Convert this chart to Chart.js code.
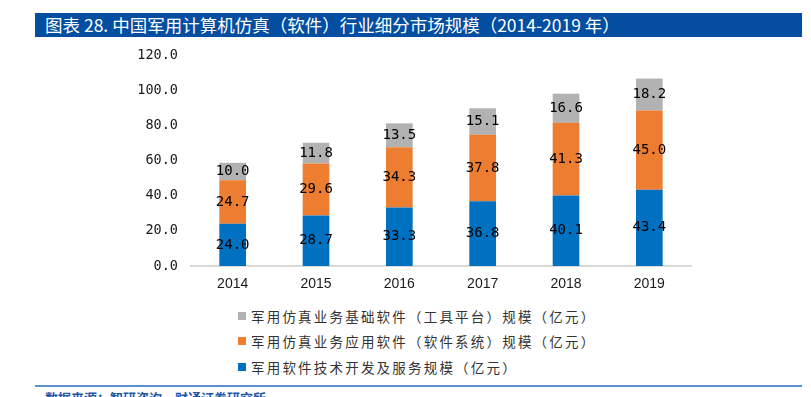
<!DOCTYPE html>
<html lang="zh-CN">
<head>
<meta charset="utf-8">
<title>中国军用计算机仿真（软件）行业细分市场规模</title>
<script src="https://cdn.jsdelivr.net/npm/chart.js@4.4.1/dist/chart.umd.min.js"></script>
<style>
  body { margin: 0; background: #fff; }
  .page { position: relative; width: 811px; height: 397px; overflow: hidden; font-family: "Noto Sans CJK SC", sans-serif; }
  .title-bar {
    position: absolute; left: 35px; top: 13px; width: 767px; height: 24px;
    background: #034ea0; color: #fff; font-size: 17.5px; line-height: 24px;
    padding-left: 10px; box-sizing: border-box; white-space: nowrap;
  }
  #chart { position: absolute; left: 0; top: 0; }
  .legend { position: absolute; left: 238px; top: 303px; }
  .legend-row { height: 25.5px; display: flex; align-items: center; font-size: 13.5px; letter-spacing: 2.2px; color: #333; white-space: nowrap; }
  .legend-row i { display: inline-block; width: 8px; height: 8px; margin-right: 5px; }
  .rule { position: absolute; left: 35px; top: 385px; width: 767px; height: 2px; background: #5b8fd0; }
  .source { position: absolute; left: 45px; top: 388px; font-size: 13px; color: #2257a8; font-weight: bold; white-space: nowrap; }
</style>
</head>
<body>
<div class="page">
  <div class="title-bar">图表 28. 中国军用计算机仿真（软件）行业细分市场规模（2014-2019 年）</div>
  <canvas id="chart" width="811" height="300"></canvas>
  <div class="legend" id="legend"></div>
  <div class="rule"></div>
  <div class="source">数据来源：智研咨询，财通证券研究所</div>
</div>
<script>
const years = ["2014", "2015", "2016", "2017", "2018", "2019"];
const serviceValues = [24.0, 28.7, 33.3, 36.8, 40.1, 43.4];
const applicationValues = [24.7, 29.6, 34.3, 37.8, 41.3, 45.0];
const platformValues = [10.0, 11.8, 13.5, 15.1, 16.6, 18.2];
const yTickLabels = ["0.0", "20.0", "40.0", "60.0", "80.0", "100.0", "120.0"];

const seriesNames = [
  "军用软件技术开发及服务规模（亿元）",
  "军用仿真业务应用软件（软件系统）规模（亿元）",
  "军用仿真业务基础软件（工具平台）规模（亿元）"
];
const seriesColors = ["#0070c0", "#ed7d31", "#b2b2b2"];

// value labels in the middle of each stacked segment
const segmentLabels = {
  id: "segmentLabels",
  afterDatasetsDraw(chart) {
    const ctx = chart.ctx;
    ctx.save();
    ctx.font = "14px 'DejaVu Sans Mono'";
    ctx.fillStyle = "#000";
    ctx.textAlign = "center";
    ctx.textBaseline = "middle";
    chart.data.datasets.forEach((dataset, i) => {
      chart.getDatasetMeta(i).data.forEach((bar, j) => {
        ctx.fillText(dataset.data[j].toFixed(1), bar.x, (bar.y + bar.base) / 2);
      });
    });
    ctx.restore();
  }
};

new Chart(document.getElementById("chart"), {
  type: "bar",
  data: {
    labels: years,
    datasets: [serviceValues, applicationValues, platformValues].map((values, i) => ({
      label: seriesNames[i],
      data: values,
      backgroundColor: seriesColors[i],
      categoryPercentage: 0.8,
      barPercentage: 0.4
    }))
  },
  options: {
    responsive: false,
    animation: false,
    layout: { padding: { top: 55, right: 120, left: 0, bottom: 0 } },
    scales: {
      x: {
        stacked: true,
        grid: { display: false, drawTicks: false },
        border: { color: "#d9d9d9", width: 2 },
        ticks: { padding: 10, color: "#1a1a1a", font: { family: "'Liberation Sans'", size: 14 } },
        afterFit: scale => { scale.height = 34; }
      },
      y: {
        stacked: true,
        min: 0,
        max: 120,
        grid: { display: false, drawTicks: false },
        border: { display: false },
        ticks: {
          stepSize: 20,
          padding: 13,
          color: "#1a1a1a",
          font: { family: "'DejaVu Sans Mono'", size: 13.5 },
          callback: (value, index) => yTickLabels[index]
        },
        afterFit: scale => { scale.width = 191; }
      }
    },
    plugins: {
      legend: { display: false },
      tooltip: { enabled: false }
    }
  },
  plugins: [segmentLabels]
});

const legend = document.getElementById("legend");
[2, 1, 0].forEach(i => {
  const row = document.createElement("div");
  row.className = "legend-row";
  const swatch = document.createElement("i");
  swatch.style.background = seriesColors[i];
  row.appendChild(swatch);
  row.appendChild(document.createTextNode(seriesNames[i]));
  legend.appendChild(row);
});
</script>
</body>
</html>
